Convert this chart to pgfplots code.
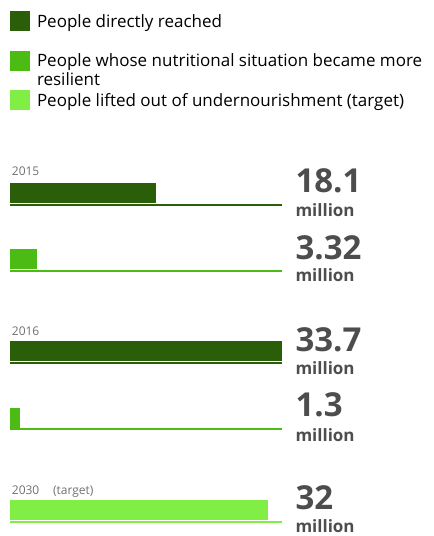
\documentclass[border=0pt]{standalone}
\usepackage{pgfplots}
\pgfplotsset{compat=1.18}
\usepackage{fontspec}
\setmainfont{Open Sans}
\definecolor{dgreen}{HTML}{2B5E08}
\definecolor{mgreen}{HTML}{4CBB14}
\definecolor{lgreen}{HTML}{80EE44}
\definecolor{numgray}{HTML}{4D4D4D}
\definecolor{yeargray}{HTML}{707070}
\begin{document}
\begin{tikzpicture}
\begin{axis}[
  scale only axis, width=433bp, height=536bp,
  xmin=-1.2390, xmax=52.409, ymin=0, ymax=536, y dir=reverse,
  axis line style={draw=none}, ticks=none, clip=false,
  bar width=20, bar shift=0pt,
  legend image code/.code={\fill[#1] (0bp,-10bp) rectangle (20bp,10bp);},
  legend cell align=left,
  legend style={at={(axis cs:0,11.5)}, anchor=north west, draw=none, fill=none,
    inner sep=0pt, outer sep=0pt, row sep=19.5bp, column sep=7bp,
    font=\fontsize{17bp}{19bp}\selectfont,
    nodes={inner sep=0pt, outer sep=0pt, text height=15bp, text depth=3bp}},
  every node/.append style={inner sep=0pt, outer sep=0pt},
]
% bars
\addplot[xbar, fill=dgreen, draw=none] coordinates {(18.1,193)};
\addlegendentry{People directly reached}
\addplot[xbar, fill=mgreen, draw=none] coordinates {(3.32,259)};
\addlegendentry{\begin{tabular}[t]{@{}l@{}}People whose nutritional situation became more\\resilient\end{tabular}}
\addplot[xbar, fill=lgreen, draw=none] coordinates {(32,510)};
\addlegendentry{People lifted out of undernourishment (target)}
\addplot[xbar, fill=dgreen, draw=none, forget plot] coordinates {(33.7,350.5)};
\addplot[xbar, fill=mgreen, draw=none, forget plot] coordinates {(1.3,418)};
% baselines
\addplot[dgreen, line width=1.8bp, mark=none, forget plot] coordinates {(0,205.2) (33.7,205.2)};
\addplot[mgreen, line width=1.8bp, mark=none, forget plot] coordinates {(0,271.2) (33.7,271.2)};
\addplot[dgreen, line width=1.8bp, mark=none, forget plot] coordinates {(0,362.6) (33.7,362.6)};
\addplot[mgreen, line width=1.8bp, mark=none, forget plot] coordinates {(0,428.6) (33.7,428.6)};
\addplot[lgreen, line width=1.8bp, mark=none, forget plot] coordinates {(0,521.8) (33.7,521.8)};
% year labels
\tikzset{yr/.style={anchor=base west, text=yeargray, font=\fontsize{12bp}{14bp}\selectfont}}
\node[yr] at (axis cs:-0.2,175.9) {2015};
\node[yr] at (axis cs:-0.2,335.2) {2016};
\node[yr] at (axis cs:-0.2,494.5) {2030};
\node[yr] at (axis cs:4.9,494.5) {(target)};
% values
\tikzset{num/.style={anchor=base west, text=numgray, font=\fontsize{33bp}{36bp}\selectfont\bfseries},
         mil/.style={anchor=base west, text=numgray, font=\fontsize{17bp}{19bp}\selectfont\bfseries}}
\node[num] at (axis cs:34.94,192.7) {18.1};
\node[mil] at (axis cs:34.94,216) {million};
\node[num] at (axis cs:34.94,259) {3.32};
\node[mil] at (axis cs:34.94,281.5) {million};
\node[num] at (axis cs:34.94,351.7) {33.7};
\node[mil] at (axis cs:34.94,374.3) {million};
\node[num] at (axis cs:34.94,416.7) {1.3};
\node[mil] at (axis cs:34.94,441) {million};
\node[num] at (axis cs:34.94,509) {32};
\node[mil] at (axis cs:34.94,532.3) {million};
\end{axis}
\end{tikzpicture}
\end{document}
